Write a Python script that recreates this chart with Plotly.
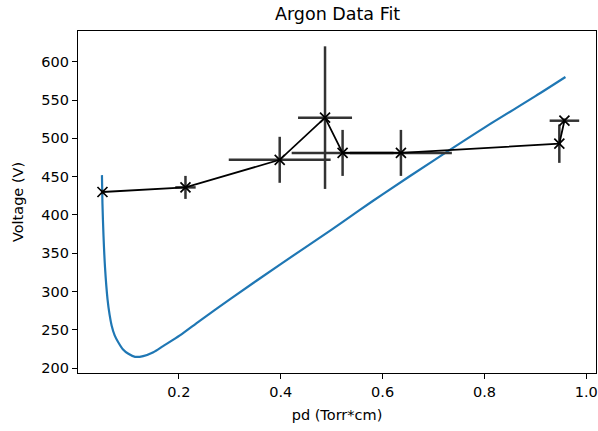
import plotly.graph_objects as go

# Fit curve
fit_pd = [0.049, 0.050, 0.052, 0.055, 0.060, 0.064, 0.068, 0.074, 0.081, 0.090,
          0.101, 0.114, 0.130, 0.150, 0.169, 0.202, 0.241, 0.30, 0.40, 0.50,
          0.554, 0.60, 0.70, 0.80, 0.90, 0.959]
fit_v = [452, 415, 374, 332, 290, 270, 256, 243, 234, 225,
         219, 215, 216, 221, 229, 243, 262, 290, 336, 381,
         406, 427, 471, 514, 555, 580]

# Measured data
data_pd = [0.05, 0.213, 0.398, 0.487, 0.5215, 0.636, 0.947, 0.957]
data_v = [430, 436, 472, 527, 481, 481, 493, 523]
data_pd_err = [0.003, 0.02, 0.1, 0.053, 0.1, 0.1, 0.003, 0.029]
data_v_err = [3, 15, 30, 93, 30, 30, 25, 3]

x_ticks = [0.2, 0.4, 0.6, 0.8, 1.0]
y_ticks = [200, 250, 300, 350, 400, 450, 500, 550, 600]

font = "DejaVu Sans"

fig = go.Figure()
fig.add_trace(go.Scatter(
    x=fit_pd, y=fit_v, mode="lines",
    line=dict(color="#1f77b4", width=2.2, shape="spline", smoothing=0.8),
    showlegend=False, hoverinfo="skip"))
fig.add_trace(go.Scatter(
    x=data_pd, y=data_v, mode="lines+markers",
    line=dict(color="black", width=1.8),
    marker=dict(symbol="x-thin", size=10, line=dict(color="black", width=1.7), color="black"),
    error_x=dict(type="data", array=data_pd_err, visible=True, thickness=2.5, width=0, color="#333333"),
    error_y=dict(type="data", array=data_v_err, visible=True, thickness=2.5, width=0, color="#333333"),
    showlegend=False))

fig.update_layout(
    width=598, height=431,
    margin=dict(l=78, r=2, t=31, b=58, autoexpand=False),
    paper_bgcolor="white", plot_bgcolor="white",
    font=dict(family=font, size=14.5, color="black"),
    title=dict(text="Argon Data Fit", x=0.5645, xanchor="center",
               y=1 - 14 / 431, yanchor="middle", yref="container",
               font=dict(family=font, size=17.5, color="black")),
    xaxis=dict(range=[0.002, 1.019], tickvals=x_ticks, tickformat=".1f",
               automargin=False, ticklabeloverflow="allow",
               showline=True, mirror=True, linecolor="black", linewidth=1.2,
               ticks="outside", ticklen=5, tickwidth=1.2, tickcolor="black",
               showgrid=False, zeroline=False,
               title=dict(text="pd (Torr*cm)", standoff=11, font=dict(size=14.5))),
    yaxis=dict(range=[193.9, 640], tickvals=y_ticks,
               automargin=False,
               showline=True, mirror=True, linecolor="black", linewidth=1.2,
               ticks="outside", ticklen=5, tickwidth=1.2, tickcolor="black",
               showgrid=False, zeroline=False,
               title=dict(text="Voltage (V)", standoff=14, font=dict(size=14.5))),
)

fig.write_html("out.html", config={"displayModeBar": False},
               post_script="document.body.style.margin='0';document.body.style.padding='0';")
